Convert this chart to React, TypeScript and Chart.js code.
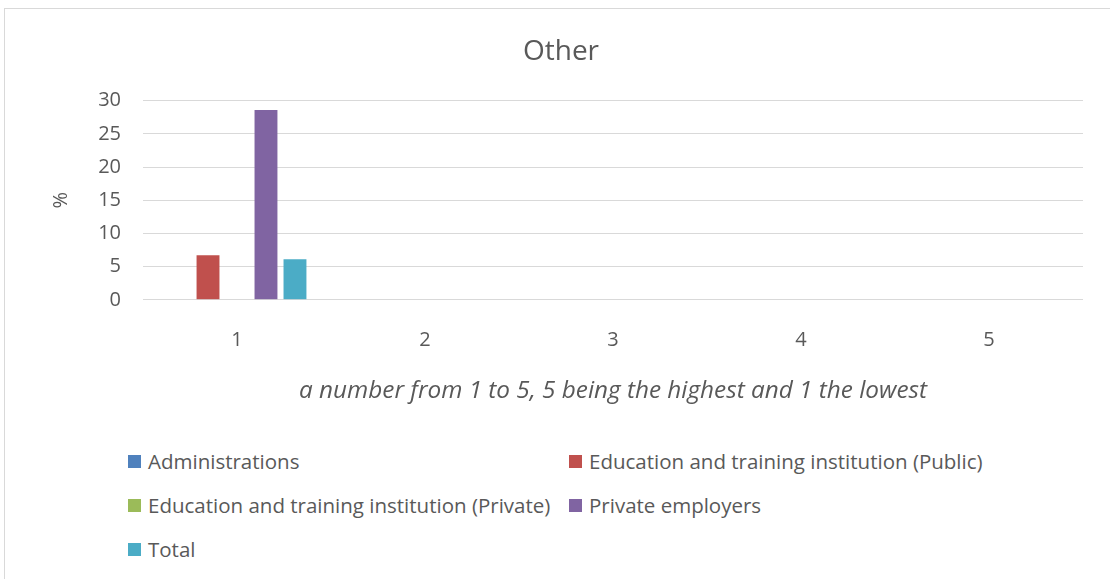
import React, { useEffect, useRef } from "react";
import { Chart, registerables } from "chart.js";

Chart.register(...registerables);

const categories = ["1", "2", "3", "4", "5"];
const seriesNames = [
  "Administrations",
  "Education and training institution (Public)",
  "Education and training institution (Private)",
  "Private employers",
  "Total",
];
const administrations = [0, 0, 0, 0, 0];
const eduPublic = [6.7, 0, 0, 0, 0];
const eduPrivate = [0, 0, 0, 0, 0];
const privateEmployers = [28.6, 0, 0, 0, 0];
const total = [6.1, 0, 0, 0, 0];
const colors = ["#4f81bd", "#c0504d", "#9bbb59", "#8064a2", "#4bacc6"];
const yTicks = [0, 5, 10, 15, 20, 25, 30];

const FONT = "'Open Sans', sans-serif";
const TEXT = "#595959";

export default function App() {
  const ref = useRef<HTMLCanvasElement | null>(null);
  useEffect(() => {
    const values = [administrations, eduPublic, eduPrivate, privateEmployers, total];
    const chart = new Chart(ref.current!, {
      type: "bar",
      data: {
        labels: categories,
        datasets: seriesNames.map((n, i) => ({
          label: n,
          data: values[i],
          backgroundColor: colors[i],
          borderWidth: 0,
          categoryPercentage: 0.771,
          barPercentage: 0.79,
        })),
      },
      options: {
        animation: false,
        responsive: false,
        maintainAspectRatio: false,
        layout: { padding: { left: 39, right: 27, top: 0, bottom: 0 } },
        plugins: {
          legend: { display: false },
          tooltip: { enabled: false },
          title: {
            display: true,
            text: "Other",
            color: TEXT,
            font: { family: FONT, size: 28, weight: "normal" },
            padding: { top: 35, bottom: 32 },
          },
        },
        scales: {
          x: {
            grid: { display: false, drawTicks: false },
            border: { display: false },
            ticks: { color: TEXT, font: { family: FONT, size: 20 }, padding: 28 },
            title: {
              display: true,
              text: "a number from 1 to 5, 5 being the highest and 1 the lowest",
              color: TEXT,
              font: { family: FONT, size: 24.3, style: "italic" },
              padding: { top: -3, bottom: 4 },
            },
          },
          y: {
            min: 0,
            max: 30,
            afterFit: (s: any) => {
              s.width = 104;
            },
            afterBuildTicks: (s: any) => {
              s.ticks = yTicks.map((v) => ({ value: v }));
            },
            grid: { color: "#d9d9d9", lineWidth: 1, drawTicks: false },
            border: { display: false },
            ticks: { color: TEXT, font: { family: FONT, size: 20 }, padding: 22 },
            title: {
              display: true,
              text: "%",
              color: TEXT,
              font: { family: FONT, size: 20 },
              padding: { top: 10, bottom: 0 },
            },
          },
        },
      },
    });
    return () => chart.destroy();
  }, []);

  const legendItems = [
    { i: 0, x: 128, y: 461 },
    { i: 1, x: 569, y: 461 },
    { i: 2, x: 128, y: 505 },
    { i: 3, x: 569, y: 505 },
    { i: 4, x: 128, y: 549 },
  ];

  return (
    <div style={{ position: "fixed", left: 0, top: 0, width: 1110, height: 579, background: "#fff", overflow: "hidden" }}>
      <div
        style={{
          position: "absolute",
          left: 4,
          top: 8,
          width: 1120,
          height: 600,
          border: "1px solid #d9d9d9",
          boxSizing: "border-box",
        }}
      />
      <canvas ref={ref} width={1110} height={410} style={{ position: "absolute", left: 0, top: 0 }} />
      {legendItems.map(({ i, x, y }) => (
        <div
          key={i}
          style={{
            position: "absolute",
            left: x,
            top: y - 13,
            height: 26,
            display: "flex",
            alignItems: "center",
            whiteSpace: "nowrap",
            fontFamily: FONT,
            fontSize: 20.5,
            color: TEXT,
          }}
        >
          <span style={{ display: "inline-block", width: 13, height: 13, background: colors[i], marginRight: 7 }} />
          <span>{seriesNames[i]}</span>
        </div>
      ))}
    </div>
  );
}
